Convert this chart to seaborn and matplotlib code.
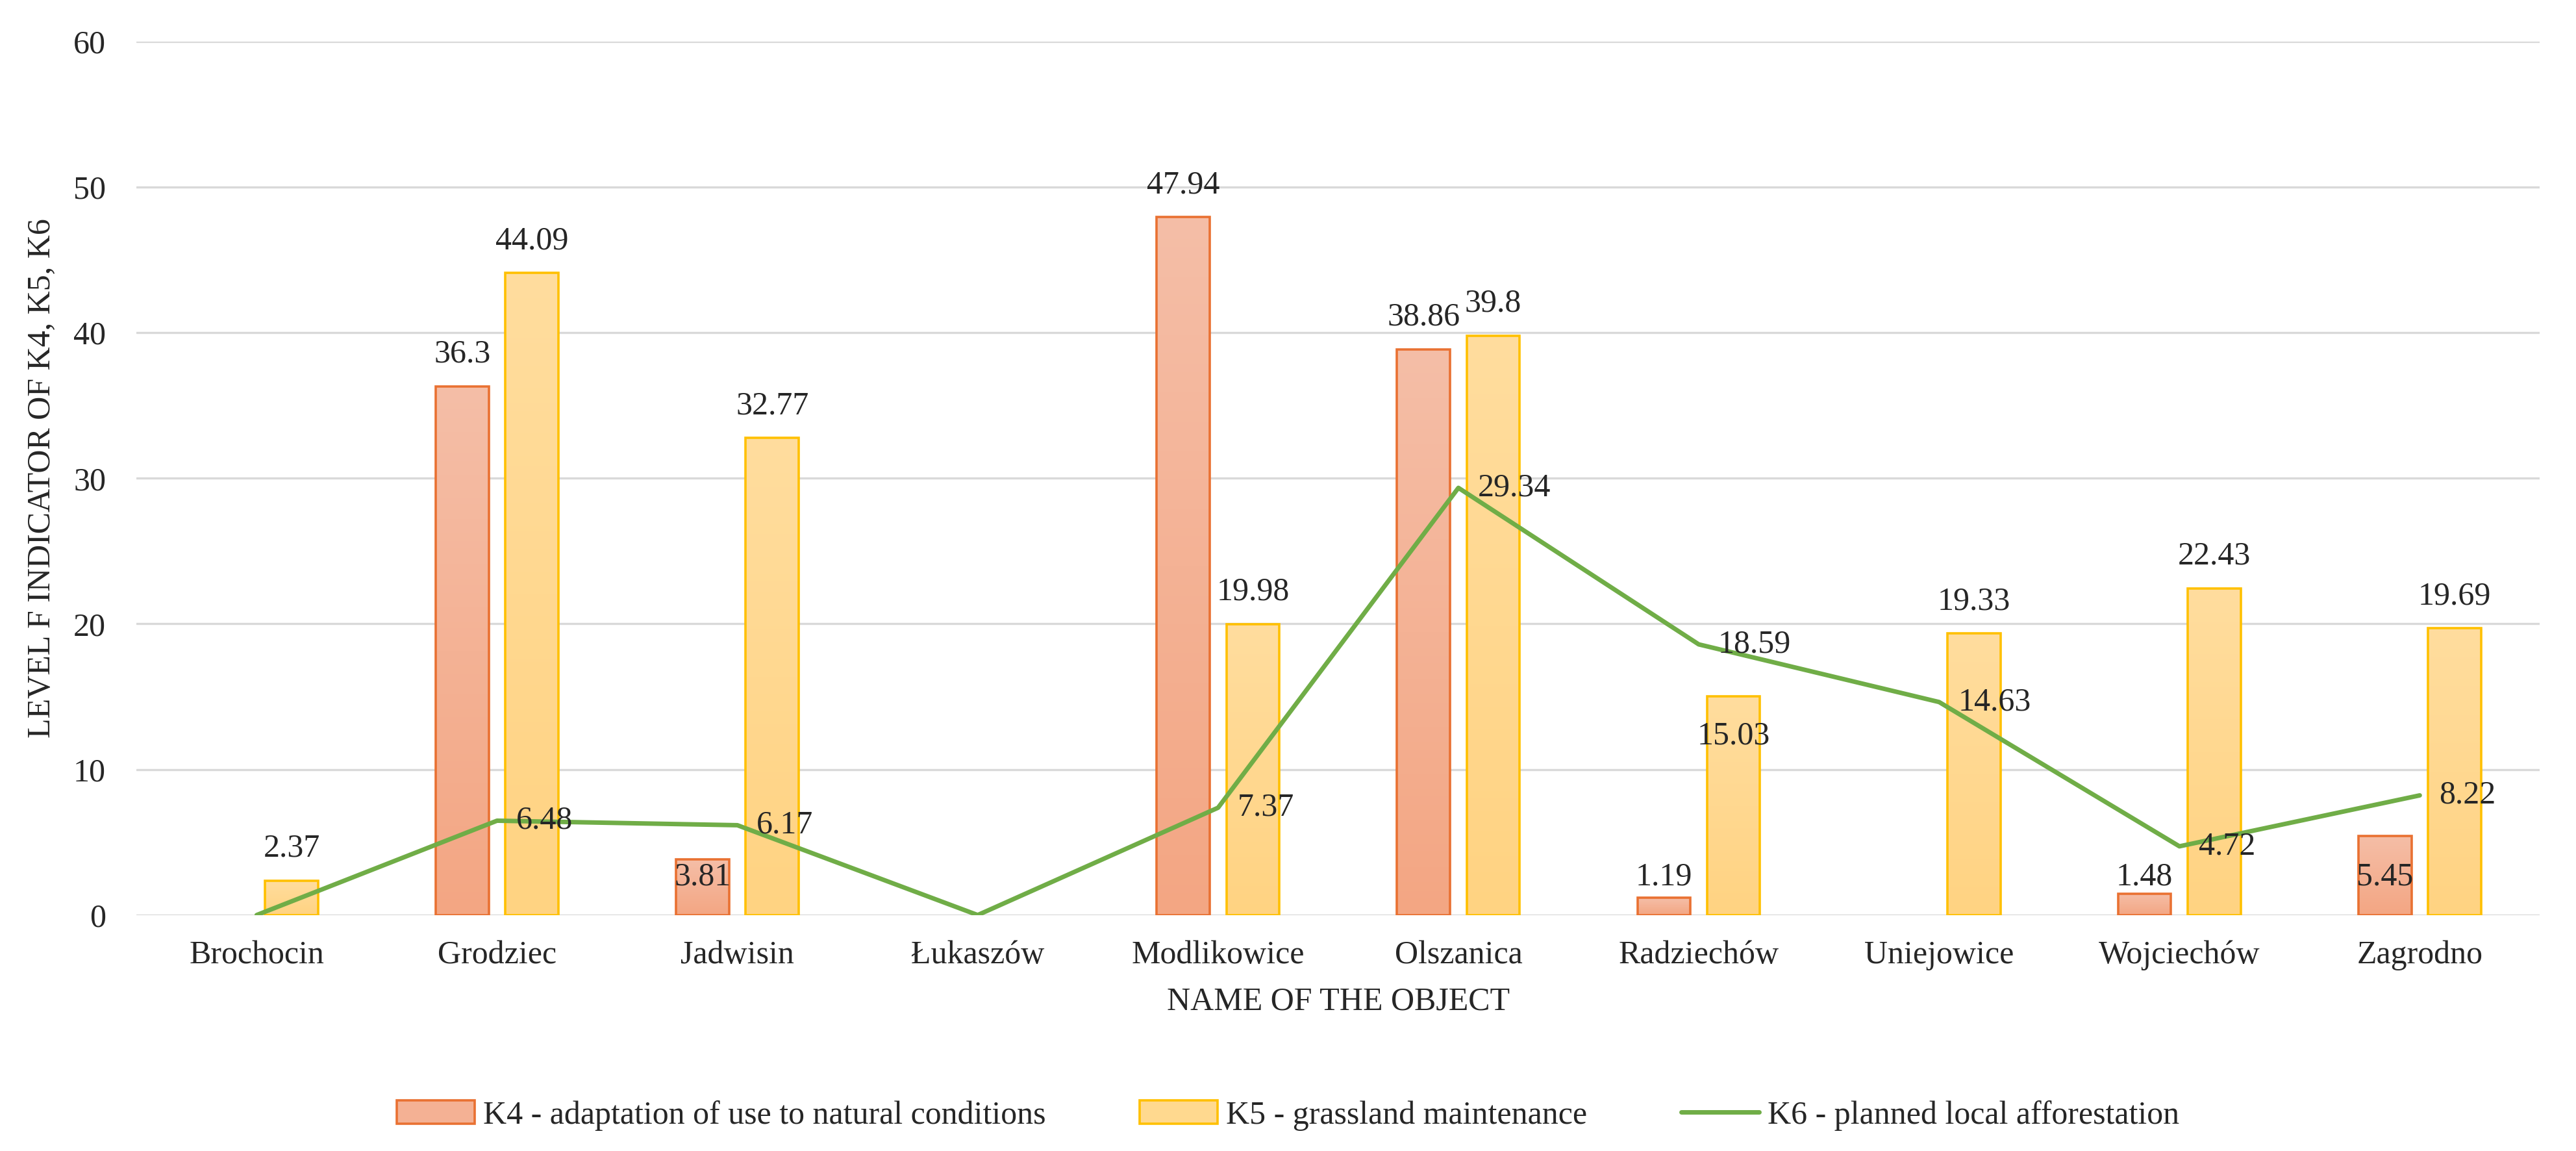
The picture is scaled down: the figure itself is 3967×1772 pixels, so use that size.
import numpy as np
import pandas as pd
import matplotlib
matplotlib.use('Agg')
import matplotlib.pyplot as plt
from matplotlib.patches import Patch
from matplotlib.lines import Line2D
from matplotlib.colors import LinearSegmentedColormap
import seaborn as sns

# data
objects = ['Brochocin', 'Grodziec', 'Jadwisin', 'Łukaszów', 'Modlikowice',
           'Olszanica', 'Radziechów', 'Uniejowice', 'Wojciechów', 'Zagrodno']
k4 = [0, 36.3, 3.81, 0, 47.94, 38.86, 1.19, 0, 1.48, 5.45]
k5 = [2.37, 44.09, 32.77, 0, 19.98, 39.8, 15.03, 19.33, 22.43, 19.69]
k6 = [0, 6.48, 6.17, 0, 7.37, 29.34, 18.59, 14.63, 4.72, 8.22]
series_names = ['K4 - adaptation of use to natural conditions',
                'K5 - grassland maintenance',
                'K6 - planned local afforestation']

df = pd.DataFrame({
    'object': objects * 2,
    'value': k4 + k5,
    'series': [series_names[0]] * len(objects) + [series_names[1]] * len(objects),
})

fill_cols = ['#F4B194', '#FFD98F']
grad_cols = [('#F3A683', '#F5BEA7'), ('#FFD382', '#FFDD9E')]  # bottom, top
edge_cols = ['#E97132', '#FFC000']
line_col = '#70AD47'

sns.set_style('white')
plt.rcParams['font.family'] = ['Liberation Serif', 'DejaVu Serif']
FS = 36

fig = plt.figure(figsize=(39.67, 17.72), dpi=100)
ax = fig.add_axes([0.053, 0.205, 0.933, 0.759])

sns.barplot(data=df, x='object', y='value', hue='series', palette=fill_cols,
            width=0.58, gap=0.24, legend=False, ax=ax, saturation=1)

# vertical gradient fill inside each bar, edge on top
grad = np.linspace(0, 1, 256).reshape(-1, 1)
for cont, ec, gc in zip(ax.containers, edge_cols, grad_cols):
    cmap = LinearSegmentedColormap.from_list('g', list(gc))
    for p in cont:
        p.set_edgecolor(ec)
        p.set_linewidth(2.6)
        if p.get_height() == 0:
            p.set_visible(False)
            continue
        x0, w, h = p.get_x(), p.get_width(), p.get_height()
        im = ax.imshow(grad, cmap=cmap, origin='lower', aspect='auto',
                       extent=[x0, x0 + w, 0, h], zorder=p.get_zorder() - 0.1)
        im.set_clip_path(p)
        p.set_facecolor('none')

pos = np.arange(len(objects))
sns.lineplot(x=pos, y=k6, color=line_col, linewidth=5, ax=ax, zorder=5)

# bar value labels
for ci, cont in enumerate(ax.containers):
    vals = k4 if ci == 0 else k5
    for p, v in zip(cont, vals):
        if v == 0:
            continue
        yc = v + 2.2
        if ci == 0 and v < 6:
            yc = 2.6
        if ci == 1 and v == 15.03:
            yc = 12.3
        ax.text(p.get_x() + p.get_width() / 2, yc, f'{v:g}', ha='center',
                va='center', fontsize=FS, zorder=6)

# line value labels
for x, v in zip(pos, k6):
    if v == 0:
        continue
    ax.text(x + 0.08, v, f'{v:g}', ha='left', va='center', fontsize=FS, zorder=6)

ax.set_ylim(0, 60)
ax.set_xlim(-0.5, len(objects) - 0.5)
ax.set_yticks(range(0, 61, 10))
ax.yaxis.grid(True, color='#D9D9D9', linewidth=2.4)
ax.set_axisbelow(True)
for s in ax.spines.values():
    s.set_visible(False)
ax.tick_params(axis='both', length=0, labelsize=FS)
ax.tick_params(axis='y', pad=34)
ax.tick_params(axis='x', pad=28)
ax.set_xlabel('NAME OF THE OBJECT', fontsize=FS, labelpad=18)
ax.set_ylabel('LEVEL F INDICATOR OF K4, K5, K6', fontsize=FS, labelpad=18)

handles = [Patch(facecolor=fill_cols[0], edgecolor=edge_cols[0], linewidth=2.6),
           Patch(facecolor=fill_cols[1], edgecolor=edge_cols[1], linewidth=2.6),
           Line2D([], [], color=line_col, linewidth=5)]
fig.legend(handles, series_names, loc='center', bbox_to_anchor=(0.5, 0.031),
           ncol=3, frameon=False,
           prop={'family': ['Liberation Serif', 'DejaVu Serif'], 'size': FS},
           handlelength=2.4, handleheight=0.75, handletextpad=0.25,
           columnspacing=2.9)

fig.savefig('out.png', dpi=100)
